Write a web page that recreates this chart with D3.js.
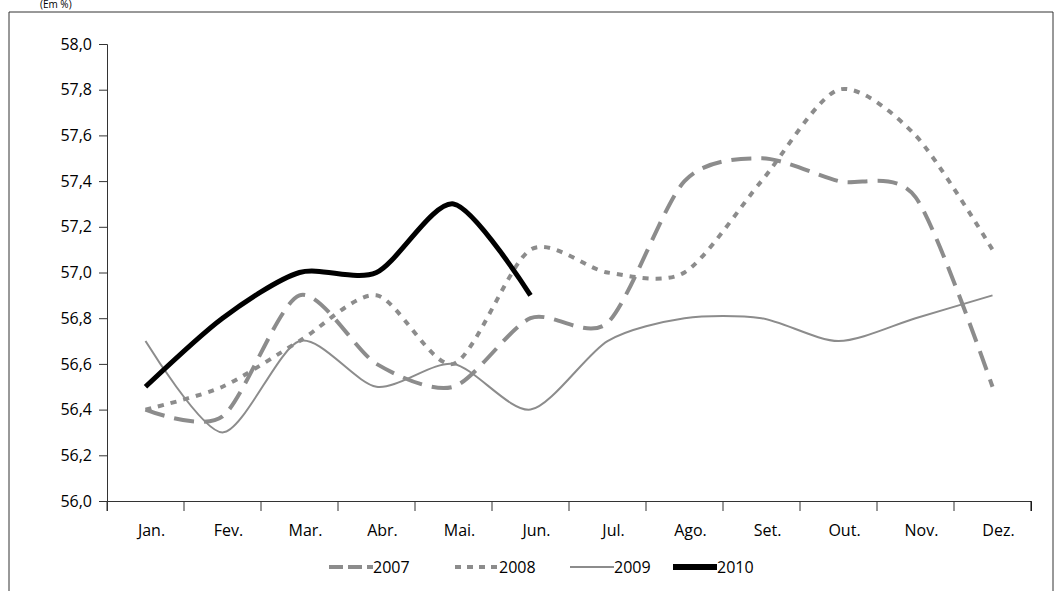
<!DOCTYPE html><html><head><meta charset="utf-8"><script src="https://cdn.jsdelivr.net/npm/d3@7"></script>
<style>body{margin:0;background:#fff}text{font-family:"Open Sans","Noto Sans",sans-serif}</style></head><body>
<svg id="c" width="1054" height="591"></svg>
<script>
const months=["Jan.","Fev.","Mar.","Abr.","Mai.","Jun.","Jul.","Ago.","Set.","Out.","Nov.","Dez."];
const yTicks=[56.0,56.2,56.4,56.6,56.8,57.0,57.2,57.4,57.6,57.8,58.0];
const s2007=[56.4,56.37,56.9,56.6,56.5,56.8,56.78,57.4,57.5,57.4,57.33,56.5];
const s2008=[56.4,56.5,56.7,56.9,56.6,57.1,57.0,57.0,57.4,57.8,57.6,57.1];
const s2009=[56.7,56.3,56.7,56.5,56.6,56.4,56.7,56.8,56.8,56.7,56.8,56.9];
const s2010=[56.5,56.8,57.0,57.0,57.3,56.9];
const svg=d3.select("#c");
svg.append("path").attr("d","M9,591V12H1053V591").attr("fill","none").attr("stroke","#333").attr("stroke-width",1);
svg.append("text").attr("x",40).attr("y",8).attr("font-size",10).text("(Em %)");
const x=d3.scaleBand().domain(months).range([107,1031]);
const y=d3.scaleLinear().domain([56,58]).range([501,44]);
const ya=svg.append("g").attr("transform","translate(107,0)").call(d3.axisLeft(y).tickValues(yTicks).tickSize(8).tickFormat(d=>d.toFixed(1).replace(".",",")));
ya.selectAll("text").attr("font-size",16).attr("fill","#000").attr("dx",-4);
const xa=svg.append("g").attr("transform","translate(0,501)").call(d3.axisBottom(x).tickSize(10).tickSizeOuter(10));
xa.selectAll(".tick line").attr("transform",`translate(${-x.bandwidth()/2},0)`);
xa.selectAll("text").attr("font-size",16).attr("fill","#000").attr("dy",22).attr("dx",6);
svg.append("line").attr("x1",1031).attr("x2",1031).attr("y1",501).attr("y2",511).attr("stroke","#000");
svg.selectAll(".domain,.tick line").attr("stroke","#333");
const cx=i=>x(months[i])+x.bandwidth()/2;
const line=d3.line().x((d,i)=>cx(i)).y(d=>y(d)).curve(d3.curveCardinal.tension(0.2));
const styles=[[s2007,"#8c8c8c",4,"20,10","2007"],[s2008,"#8c8c8c",4,"6,7","2008"],[s2009,"#8c8c8c",2,null,"2009"],[s2010,"#000",5,null,"2010"]];
styles.forEach(([d,c,w,da])=>{svg.append("path").attr("d",line(d)).attr("fill","none").attr("stroke",c).attr("stroke-width",w).attr("stroke-dasharray",da);});
const lx=[329,455,570,673];
styles.forEach(([d,c,w,da,n],i)=>{
 svg.append("line").attr("x1",lx[i]).attr("x2",lx[i]+44).attr("y1",567).attr("y2",567).attr("stroke",c).attr("stroke-width",i==3?6:(i==2?2:4)).attr("stroke-dasharray",i==0?"14,5":(i==1?"6,6":null));
 svg.append("text").attr("x",lx[i]+44).attr("y",573).attr("font-size",16).text(n);
});
</script></body></html>
